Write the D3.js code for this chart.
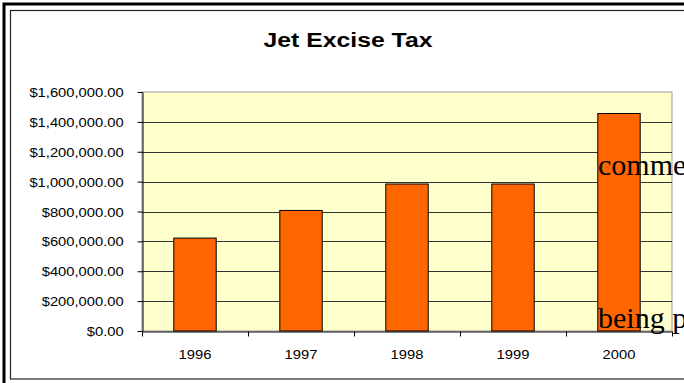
<!DOCTYPE html>
<html lang="en">
<head>
<meta charset="UTF-8">
<title>Jet Excise Tax</title>
<script src="https://cdn.jsdelivr.net/npm/d3@7"></script>
<style>
    body { margin: 0; background: white; }
    svg { display: block; }
    text { font-family: "Liberation Sans", Arial, sans-serif; fill: #000; }
    .stray { font-family: "Liberation Serif", "Times New Roman", serif; font-size: 30px; }
</style>
</head>
<body>
<div id="chart"></div>
<script>
    // ---------------- data ----------------
    const years = ["1996", "1997", "1998", "1999", "2000"];
    const taxValues = [622000, 807000, 984000, 984000, 1456000];
    const yTicks = [0, 200000, 400000, 600000, 800000, 1000000, 1200000, 1400000, 1600000];
    const chartTitle = "Jet Excise Tax";
    const strayWords = ["comme", "being p"];

    // ---------------- layout ----------------
    const W = 684, H = 383;
    const plot = { left: 142, right: 672, top: 92, bottom: 331 };
    const stretch = 1.18; // original text looks horizontally stretched

    const svg = d3.select("#chart").append("svg")
        .attr("width", W)
        .attr("height", H);

    svg.append("rect").attr("width", W).attr("height", H).attr("fill", "white");

    // double frame round the chart (right / bottom run off the picture)
    svg.append("rect")
        .attr("x", 4).attr("y", 4).attr("width", 720).attr("height", 420)
        .attr("fill", "none").attr("stroke", "#000").attr("stroke-width", 3);
    svg.append("rect")
        .attr("x", 10.5).attr("y", 10.5).attr("width", 720).attr("height", 368.5)
        .attr("fill", "none").attr("stroke", "#222").attr("stroke-width", 1.2);

    // ---------------- scales ----------------
    const x = d3.scaleBand()
        .domain(years)
        .range([plot.left, plot.right])
        .paddingInner(0.6)
        .paddingOuter(0.3);

    const xEdges = d3.scaleLinear()
        .domain([0, years.length])
        .range([plot.left, plot.right]);

    const y = d3.scaleLinear()
        .domain([0, 1600000])
        .range([plot.bottom, plot.top]);

    // plot area
    svg.append("rect")
        .attr("x", plot.left).attr("y", plot.top)
        .attr("width", plot.right - plot.left).attr("height", plot.bottom - plot.top)
        .attr("fill", "#FFFFCC")
        .attr("stroke", "#999").attr("stroke-width", 1);

    // gridlines
    svg.append("g")
        .selectAll("line")
        .data(yTicks.filter(d => d > 0 && d < 1600000))
        .enter()
        .append("line")
        .attr("x1", plot.left).attr("x2", plot.right)
        .attr("y1", d => Math.round(y(d)) + 0.5).attr("y2", d => Math.round(y(d)) + 0.5)
        .attr("stroke", "#333").attr("stroke-width", 1);

    // bars
    svg.append("g")
        .selectAll("rect")
        .data(taxValues)
        .enter()
        .append("rect")
        .attr("x", (d, i) => x(years[i]))
        .attr("y", d => y(d))
        .attr("width", x.bandwidth())
        .attr("height", d => y(0) - y(d))
        .attr("fill", "#FF6600")
        .attr("stroke", "#000").attr("stroke-width", 1);

    // y axis
    const fmt = d3.format("$,.2f");
    const yAxis = svg.append("g")
        .attr("transform", `translate(${plot.left + 0.5},0)`)
        .call(d3.axisLeft(y).tickValues(yTicks).tickFormat(fmt).tickSize(5).tickSizeOuter(0));
    yAxis.select(".domain").attr("stroke", "#000");
    yAxis.selectAll(".tick line").attr("stroke", "#000");
    yAxis.selectAll(".tick text")
        .attr("x", -16)
        .attr("dy", "0.36em")
        .attr("transform", `scale(${stretch},1)`)
        .style("font-size", "12.5px")
        .style("font-family", "'Liberation Sans', Arial, sans-serif");

    // x axis: tick marks at category edges
    const xTickAxis = svg.append("g")
        .attr("transform", `translate(0,${plot.bottom + 0.5})`)
        .call(d3.axisBottom(xEdges).tickValues(d3.range(years.length + 1)).tickFormat("").tickSize(5).tickSizeOuter(0));
    xTickAxis.select(".domain").attr("stroke", "#000");
    xTickAxis.selectAll(".tick line").attr("stroke", "#000");

    // x axis: labels at category centres
    const xLabelAxis = svg.append("g")
        .attr("transform", `translate(0,${plot.bottom})`)
        .call(d3.axisBottom(x).tickSize(0));
    xLabelAxis.select(".domain").remove();
    xLabelAxis.selectAll(".tick text")
        .attr("y", 28)
        .attr("dy", 0)
        .attr("transform", `scale(${stretch},1)`)
        .attr("x", 0)
        .style("font-size", "12.5px")
        .style("font-family", "'Liberation Sans', Arial, sans-serif");

    // title
    svg.append("text")
        .attr("transform", `translate(348,47) scale(${stretch},1)`)
        .attr("text-anchor", "middle")
        .style("font-size", "21px")
        .style("font-weight", "bold")
        .text(chartTitle);

    // stray serif text lying over the chart
    svg.append("text").attr("class", "stray").attr("x", 598).attr("y", 175).text(strayWords[0]);
    svg.append("text").attr("class", "stray").attr("x", 598).attr("y", 328).text(strayWords[1]);
</script>
</body>
</html>
